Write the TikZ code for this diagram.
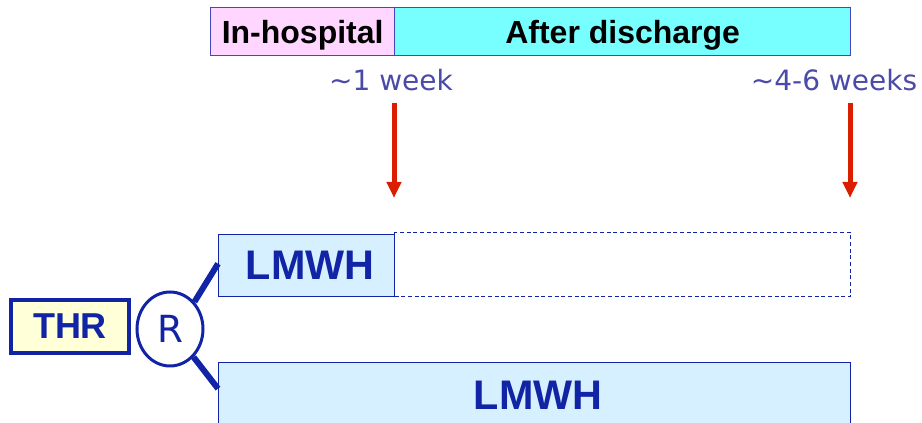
\documentclass[tikz,border=0pt]{standalone}
\usepackage{fontspec}
\setmainfont{Liberation Sans}
\newfontfamily\labelfont{DejaVu Sans}
\usetikzlibrary{arrows.meta,shapes.geometric}

\definecolor{hdrline}{RGB}{70,70,190}
\definecolor{pinkfill}{RGB}{255,214,255}
\definecolor{cyanfill}{RGB}{119,255,255}
\definecolor{weekblue}{RGB}{74,74,168}
\definecolor{darkblue}{RGB}{16,36,165}
\definecolor{lightblue}{RGB}{214,240,255}
\definecolor{lightyellow}{RGB}{255,255,216}
\definecolor{arrowred}{RGB}{220,30,0}

\tikzset{
  hdrbox/.style={draw=hdrline, line width=1pt, inner sep=0pt, anchor=north west, text depth=0pt,
    font=\fontsize{24}{24}\selectfont\bfseries, text=black},
  weeklabel/.style={text=weekblue, font=\labelfont\fontsize{21}{21}\selectfont},
  armbox/.style={draw=darkblue, line width=1pt, fill=lightblue, inner sep=0pt,
    anchor=north west, text=darkblue, font=\fontsize{31}{31}\selectfont\bfseries},
  redarrow/.style={draw=arrowred, line width=3.75pt, -{Triangle[width=10.5pt,length=12pt]}},
  randline/.style={draw=darkblue, line width=4.5pt}
}

\begin{document}
\begin{tikzpicture}[x=0.75pt,y=-0.75pt]
		\useasboundingbox (0,0) rectangle (922,423);

		%header
		\node[hdrbox, fill=pinkfill, minimum width=184*0.75pt, minimum height=48*0.75pt] (inhosp) at (210,7) {In-hospital};
		\node[hdrbox, fill=cyanfill, minimum width=456*0.75pt, minimum height=48*0.75pt] (afterdis) at (394,7) {After discharge};

		%weeks & arrows
		\node[weeklabel] (wk1) at (391,80) {\textasciitilde1 week};
		\node[weeklabel] (wk6) at (834,80) {\textasciitilde4-6 weeks};
		\foreach \x/\n in {394/a,850/b}
		{
			\coordinate (top\n) at (\x,103);
			\coordinate (tip\n) at (\x,198);
			\draw[redarrow] (top\n) -- (tip\n);
		}

		%arms
		\node[draw=darkblue, line width=1pt, dash pattern=on 3pt off 2pt, inner sep=0pt, anchor=north west,
			minimum width=456*0.75pt, minimum height=64*0.75pt] (extend) at (394,232) {};
		\node[armbox, minimum width=176*0.75pt, minimum height=62*0.75pt] (lmwhA) at (218,234) {\,LMWH};
		\node[armbox, minimum width=632*0.75pt, minimum height=66*0.75pt] (lmwhB) at (218,362) {\,LMWH};

		%THR & R
		\node[draw=darkblue, line width=3pt, fill=lightyellow, inner sep=0pt, minimum width=118*0.75pt,
			minimum height=53*0.75pt, text=darkblue, font=\fontsize{27}{27}\selectfont\bfseries] (thr) at (70,326.5) {THR};
		\node[ellipse, draw=darkblue, line width=2.25pt, fill=white, inner sep=0pt, minimum width=66*0.75pt,
			minimum height=74*0.75pt, text=darkblue, font=\labelfont\fontsize{28}{28}\selectfont] (rand) at (170,329) {R};
		\draw[randline] (rand.48) -- ([yshift=1.5pt]lmwhA.west);
		\draw[randline] (rand.-50) -- ([yshift=5.25pt]lmwhB.west);
\end{tikzpicture}
\end{document}
